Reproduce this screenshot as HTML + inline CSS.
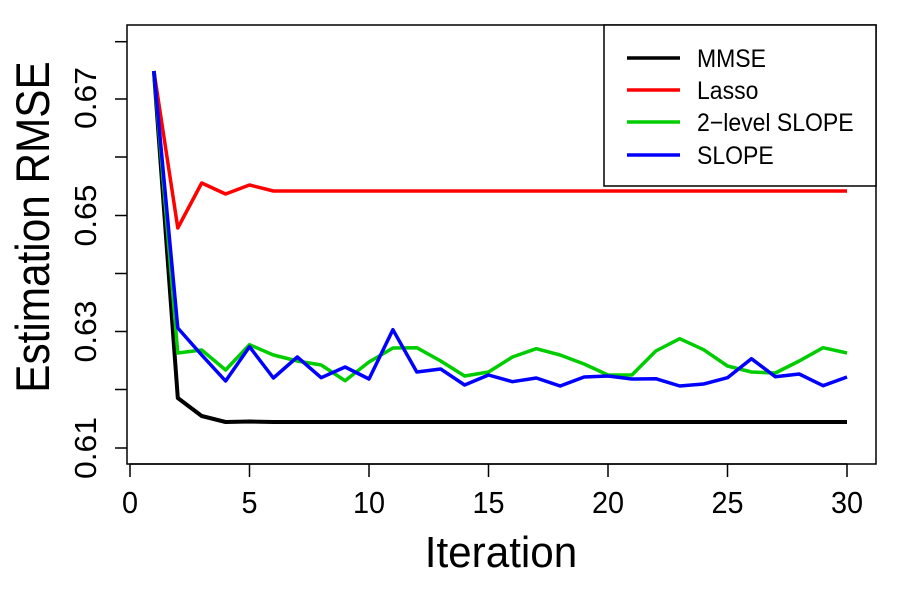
<!DOCTYPE html>
<html><head><meta charset="utf-8"><style>body{margin:0;background:#fff}svg{display:block}</style></head>
<body>
<svg width="900" height="600" xmlns="http://www.w3.org/2000/svg" font-family="Liberation Sans, sans-serif">
<rect width="900" height="600" fill="#fff"/>
<g stroke="#000" stroke-width="1.5" fill="none">
<rect x="127" y="25" width="749" height="439"/>
<line x1="115" y1="41.7" x2="127" y2="41.7"/><line x1="115" y1="99" x2="127" y2="99"/>
<line x1="115" y1="157" x2="127" y2="157"/><line x1="115" y1="215.5" x2="127" y2="215.5"/>
<line x1="115" y1="273.5" x2="127" y2="273.5"/><line x1="115" y1="331.5" x2="127" y2="331.5"/>
<line x1="115" y1="389.5" x2="127" y2="389.5"/><line x1="115" y1="448" x2="127" y2="448"/>
<line x1="130" y1="464" x2="847" y2="464"/>
<line x1="130" y1="464" x2="130" y2="477"/><line x1="249.5" y1="464" x2="249.5" y2="477"/>
<line x1="369" y1="464" x2="369" y2="477"/><line x1="488.5" y1="464" x2="488.5" y2="477"/>
<line x1="608" y1="464" x2="608" y2="477"/><line x1="727.5" y1="464" x2="727.5" y2="477"/>
<line x1="847" y1="464" x2="847" y2="477"/>
</g>
<g font-size="31" text-anchor="middle">
<text transform="translate(96,448) rotate(-90) scale(1.03,1)">0.61</text>
<text transform="translate(96,331.5) rotate(-90) scale(1.03,1)">0.63</text>
<text transform="translate(96,215.5) rotate(-90) scale(1.03,1)">0.65</text>
<text transform="translate(96,98) rotate(-90) scale(1.03,1)">0.67</text>
<text transform="translate(130,513) scale(0.93,1)">0</text>
<text transform="translate(249.5,513) scale(0.93,1)">5</text>
<text transform="translate(369,513) scale(0.93,1)">10</text>
<text transform="translate(488.5,513) scale(0.93,1)">15</text>
<text transform="translate(608,513) scale(0.93,1)">20</text>
<text transform="translate(727.5,513) scale(0.93,1)">25</text>
<text transform="translate(847,513) scale(0.93,1)">30</text>
</g>
<text transform="translate(501,567) scale(0.96,1)" font-size="44" text-anchor="middle">Iteration</text>
<text transform="translate(49,227) rotate(-90) scale(0.9,1)" font-size="47" text-anchor="middle">Estimation RMSE</text>
<g fill="none" stroke-linejoin="round" stroke-width="3.5">
<polyline stroke="#ff0000" points="153.9,71 177.8,228 201.7,183 225.6,194 249.5,185 273.4,191 297.3,191 321.2,191 345.1,191 369,191 392.9,191 416.8,191 440.7,191 464.6,191 488.5,191 512.4,191 536.3,191 560.2,191 584.1,191 608,191 631.9,191 655.8,191 679.7,191 703.6,191 727.5,191 751.4,191 775.3,191 799.2,191 823.1,191 847,191"/>
<polyline stroke="#000" stroke-width="4" points="153.9,71 177.8,398 201.7,416 225.6,422 249.5,421.5 273.4,422 297.3,422 321.2,422 345.1,422 369,422 392.9,422 416.8,422 440.7,422 464.6,422 488.5,422 512.4,422 536.3,422 560.2,422 584.1,422 608,422 631.9,422 655.8,422 679.7,422 703.6,422 727.5,422 751.4,422 775.3,422 799.2,422 823.1,422 847,422"/>
<polyline stroke="#00cd00" points="153.9,71 177.8,353 201.7,350 225.6,370 249.5,344.7 273.4,355 297.3,361 321.2,365 345.1,380.7 369,362 392.9,348 416.8,347.7 440.7,361 464.6,376 488.5,372 512.4,357 536.3,348.7 560.2,355 584.1,364 608,375 631.9,375 655.8,351 679.7,338.7 703.6,349.7 727.5,366 751.4,372 775.3,373 799.2,361 823.1,347.7 847,353"/>
<polyline stroke="#0000ff" points="153.9,71 177.8,328 201.7,355 225.6,381 249.5,346.7 273.4,378 297.3,357 321.2,377.7 345.1,367 369,379 392.9,329.7 416.8,372 440.7,369 464.6,385 488.5,375 512.4,381.7 536.3,378 560.2,386 584.1,377 608,376 631.9,379 655.8,378.7 679.7,386 703.6,384 727.5,377.7 751.4,358.7 775.3,376.7 799.2,374 823.1,385.7 847,377"/>
</g>
<rect x="604" y="25" width="272" height="161" fill="#fff" stroke="#000" stroke-width="1.5"/>
<g stroke-width="3.5">
<line x1="627" y1="58" x2="680" y2="58" stroke="#000"/>
<line x1="627" y1="90" x2="680" y2="90" stroke="#ff0000"/>
<line x1="627" y1="122" x2="680" y2="122" stroke="#00cd00"/>
<line x1="627" y1="155" x2="680" y2="155" stroke="#0000ff"/>
</g>
<g font-size="25">
<text transform="translate(697,67) scale(0.92,1)">MMSE</text>
<text transform="translate(697,99) scale(0.92,1)">Lasso</text>
<text transform="translate(697,131) scale(0.92,1)">2−level SLOPE</text>
<text transform="translate(697,164) scale(0.92,1)">SLOPE</text>
</g>
</svg>
</body></html>
